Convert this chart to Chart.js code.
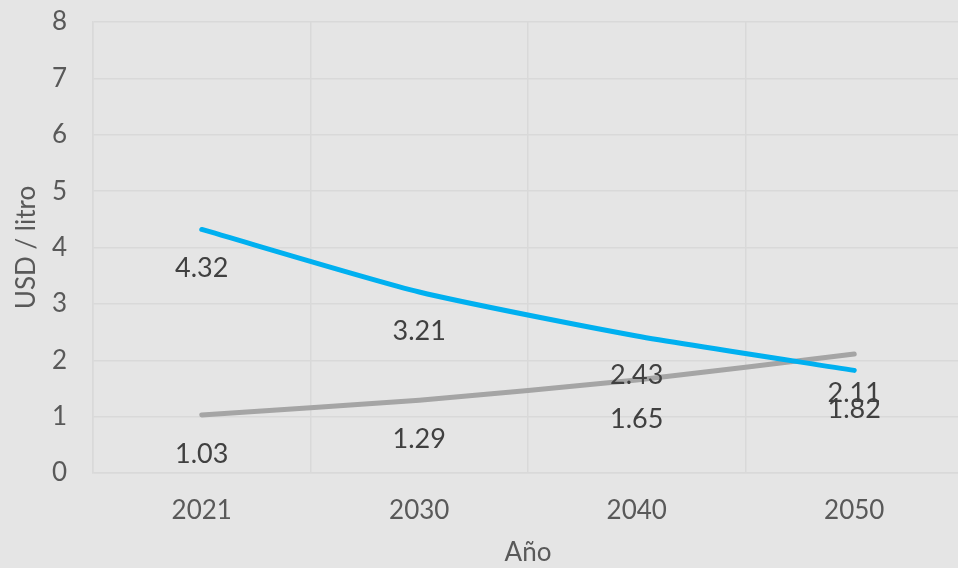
<!DOCTYPE html>
<html>
<head>
<meta charset="utf-8">
<script src="https://cdn.jsdelivr.net/npm/chart.js@4"></script>
<style>
  html, body { margin: 0; padding: 0; background: #e5e5e5; overflow: hidden; }
  #wrap { width: 970px; height: 568px; }
</style>
</head>
<body>
<div id="wrap"><canvas id="chart" width="970" height="568"></canvas></div>
<script>
const years = ["2021", "2030", "2040", "2050"];
const blueValues = [4.32, 3.21, 2.43, 1.82];
const grayValues = [1.03, 1.29, 1.65, 2.11];

const FONT = "Lato, 'DejaVu Sans', sans-serif";
const TEXT = "#595959";
const GRID = "#d9d9d9";

// draws each value under its point, the chart only has Chart.js
const valueLabels = {
  id: "valueLabels",
  afterDatasetsDraw(chart) {
    const ctx = chart.ctx;
    ctx.save();
    ctx.font = "27px " + FONT;
    ctx.fillStyle = "#404040";
    ctx.textAlign = "center";
    ctx.textBaseline = "middle";
    chart.data.datasets.forEach((ds, i) => {
      chart.getDatasetMeta(i).data.forEach((pt, j) => {
        ctx.fillText(ds.data[j].toFixed(2), pt.x, pt.y + 39);
      });
    });
    ctx.restore();
  },
};

new Chart(document.getElementById("chart"), {
  type: "line",
  data: {
    labels: years,
    datasets: [
      {
        label: "Serie 1",
        data: blueValues,
        borderColor: "#00b0f0",
        borderWidth: 5,
        borderCapStyle: "round",
        pointRadius: 0,
        tension: 0.2,
      },
      {
        label: "Serie 2",
        data: grayValues,
        borderColor: "#a5a5a5",
        borderWidth: 5,
        borderCapStyle: "round",
        pointRadius: 0,
        tension: 0.2,
      },
    ],
  },
  options: {
    responsive: false,
    animation: false,
    layout: { padding: { top: 22, right: 7, left: 11, bottom: 0 } },
    plugins: {
      legend: { display: false },
      tooltip: { enabled: false },
    },
    scales: {
      x: {
        offset: true,
        grid: { offset: true, color: GRID, lineWidth: 1.5, drawTicks: false },
        border: { color: GRID, width: 1.5 },
        ticks: { color: TEXT, font: { family: FONT, size: 26 }, padding: 22 },
        title: { display: true, text: "Año", color: TEXT, font: { family: FONT, size: 26 }, padding: { top: 7, bottom: 0 } },
        afterFit(s) { s.height = 95; },
      },
      y: {
        min: 0,
        max: 8,
        ticks: { stepSize: 1, color: TEXT, font: { family: FONT, size: 26 }, padding: 26 },
        grid: { color: GRID, lineWidth: 1.5, drawTicks: false },
        border: { color: GRID, width: 1.5 },
        title: { display: true, text: "USD / litro", color: TEXT, font: { family: FONT, size: 26 }, padding: { top: 0, bottom: 0 } },
        afterFit(s) { s.width = 82; s.paddingTop = 0; s.paddingBottom = 0; },
      },
    },
  },
  plugins: [valueLabels],
});
</script>
</body>
</html>
